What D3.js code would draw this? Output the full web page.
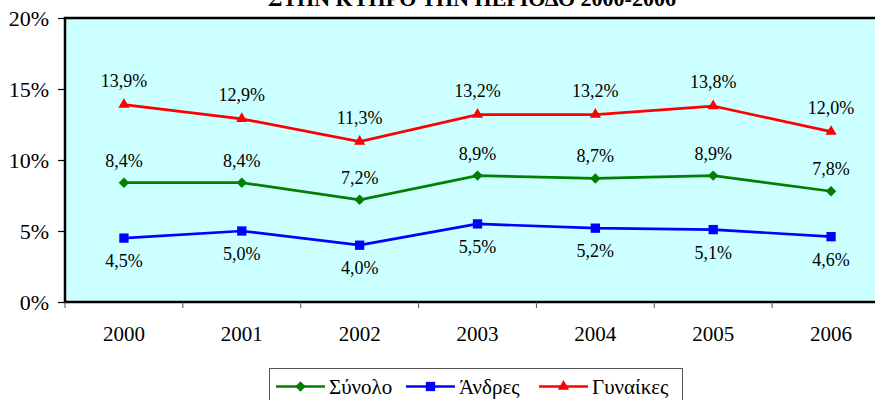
<!DOCTYPE html>
<html>
<head>
<meta charset="utf-8">
<script src="https://cdn.jsdelivr.net/npm/d3@7"></script>
<style>
  body { margin: 0; background: #fff; }
  svg { display: block; font-family: "Liberation Serif", "Times New Roman", serif; }
</style>
</head>
<body>
<div id="chart"></div>
<script>
// data
const years = ["2000", "2001", "2002", "2003", "2004", "2005", "2006"];
const totalValues = [8.4, 8.4, 7.2, 8.9, 8.7, 8.9, 7.8];
const menValues = [4.5, 5.0, 4.0, 5.5, 5.2, 5.1, 4.6];
const womenValues = [13.9, 12.9, 11.3, 13.2, 13.2, 13.8, 12.0];
const yTicks = [0, 5, 10, 15, 20];
const seriesNames = ["Σύνολο", "Άνδρες", "Γυναίκες"];
const titleText = "ΣΤΗΝ ΚΥΠΡΟ ΤΗΝ ΠΕΡΙΟΔΟ 2000-2006";

const W = 875, H = 400;
const plot = {left: 65, right: 890, top: 18, bottom: 302};

const svg = d3.select("#chart").append("svg")
    .attr("width", W)
    .attr("height", H);

const x = d3.scaleBand().domain(years).range([plot.left, plot.right]).padding(0);
const y = d3.scaleLinear().domain([0, 20]).range([plot.bottom, plot.top]);

const fmt = v => v.toFixed(1).replace(".", ",") + "%";

// title (cut off at the top, like the original)
svg.append("text")
    .attr("x", 472)
    .attr("y", 6)
    .attr("text-anchor", "middle")
    .attr("font-size", 22)
    .attr("font-weight", "bold")
    .text(titleText);

// plot background
svg.append("rect")
    .attr("x", plot.left)
    .attr("y", plot.top)
    .attr("width", plot.right - plot.left)
    .attr("height", plot.bottom - plot.top)
    .attr("fill", "#ccffff");

// borders: top, left, bottom
svg.append("path")
    .attr("d", `M${plot.right},${plot.top}H${plot.left}V${plot.bottom}H${plot.right}`)
    .attr("fill", "none")
    .attr("stroke", "#000")
    .attr("stroke-width", 2.5);

// y axis
const yAxis = svg.append("g")
    .attr("transform", `translate(${plot.left},0)`)
    .call(d3.axisLeft(y).tickValues(yTicks).tickSize(7).tickPadding(9).tickFormat(d => d + "%"));
yAxis.select(".domain").remove();
yAxis.selectAll("line").attr("stroke", "#000").attr("stroke-width", 1.2);
yAxis.selectAll("text").attr("font-size", 22).attr("font-family", "Liberation Serif").attr("fill", "#000");

// x axis ticks at band boundaries
const bounds = years.map(d => x(d)).concat([plot.right]);
svg.append("g").selectAll("line")
    .data(bounds)
    .join("line")
    .attr("x1", d => d).attr("x2", d => d)
    .attr("y1", plot.bottom).attr("y2", plot.bottom + 6)
    .attr("stroke", "#555")
    .attr("stroke-width", 1);

svg.append("g").selectAll("text")
    .data(years)
    .join("text")
    .attr("x", d => x(d) + x.bandwidth() / 2)
    .attr("y", 341)
    .attr("text-anchor", "middle")
    .attr("font-size", 21)
    .text(d => d);

const cx = (d, i) => x(years[i]) + x.bandwidth() / 2;
const line = d3.line().x(cx).y(d => y(d));

const series = [
    {name: seriesNames[0], values: totalValues, color: "#008000", shape: d3.symbolDiamond2, size: 70, labelDy: -16},
    {name: seriesNames[1], values: menValues, color: "#0000ff", shape: d3.symbolSquare2, size: 110, labelDy: 29},
    {name: seriesNames[2], values: womenValues, color: "#ff0000", shape: d3.symbolTriangle2, size: 90, labelDy: -18}
];

series.forEach(s => {
    svg.append("path")
        .datum(s.values)
        .attr("d", line)
        .attr("fill", "none")
        .attr("stroke", s.color)
        .attr("stroke-width", 2.7);

    svg.append("g").selectAll("path")
        .data(s.values)
        .join("path")
        .attr("transform", (d, i) => `translate(${cx(d, i)},${y(d)})`)
        .attr("d", d3.symbol().type(s.shape).size(s.size))
        .attr("fill", s.color);

    svg.append("g").selectAll("text")
        .data(s.values)
        .join("text")
        .attr("x", (d, i) => cx(d, i))
        .attr("y", d => y(d) + s.labelDy)
        .attr("text-anchor", "middle")
        .attr("font-size", 18)
        .text(d => fmt(d));
});

// legend
const legend = svg.append("g");
legend.append("rect")
    .attr("x", 269.5).attr("y", 368.5)
    .attr("width", 413).attr("height", 40)
    .attr("fill", "#fff")
    .attr("stroke", "#555")
    .attr("stroke-width", 1);

const legendX = [276, 406, 539];
series.forEach((s, i) => {
    const lx = legendX[i], ly = 386.5;
    legend.append("line")
        .attr("x1", lx).attr("x2", lx + 49)
        .attr("y1", ly).attr("y2", ly)
        .attr("stroke", s.color)
        .attr("stroke-width", 2.5);
    legend.append("path")
        .attr("transform", `translate(${lx + 24.5},${ly})`)
        .attr("d", d3.symbol().type(s.shape).size(s.size))
        .attr("fill", s.color);
    legend.append("text")
        .attr("x", lx + 53)
        .attr("y", ly + 7)
        .attr("font-size", 21)
        .text(s.name);
});
</script>
</body>
</html>
